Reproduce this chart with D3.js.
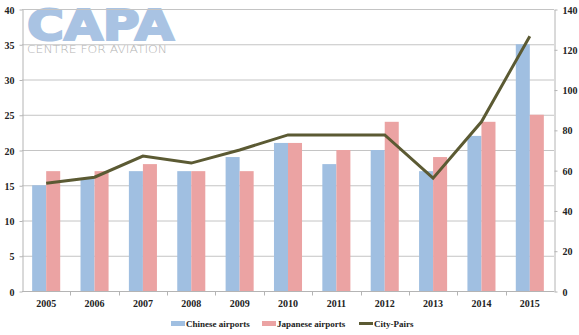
<!DOCTYPE html>
<html>
<head>
<meta charset="utf-8">
<script src="https://cdn.jsdelivr.net/npm/d3@7"></script>
<style>
  body { margin: 0; background: #fff; }
  svg { display: block; }
</style>
</head>
<body>
<svg id="chart"></svg>
<script>
const years = ["2005", "2006", "2007", "2008", "2009", "2010", "2011", "2012", "2013", "2014", "2015"];
const chineseAirports = [15, 16, 17, 17, 19, 21, 18, 20, 17, 22, 35];
const japaneseAirports = [17, 17, 18, 17, 17, 21, 20, 24, 19, 24, 25];
const cityPairs = [53.5, 56.5, 67, 63.5, 70, 77.5, 77.5, 77.5, 56, 84, 126.5];
const leftTicks = [0, 5, 10, 15, 20, 25, 30, 35, 40];
const rightTicks = [0, 20, 40, 60, 80, 100, 120, 140];

function main() {
    const width = 579;
    const height = 335;
    const left = 22, right = 554, top = 9, bottom = 291;

    const svg = d3.select("#chart").attr("width", width).attr("height", height);

    const x = d3.scaleBand().domain(years).range([left, right])
        .paddingInner(0.42).paddingOuter(0.21);
    const yLeft = d3.scaleLinear().domain([0, 40]).range([bottom, top]);
    const yRight = d3.scaleLinear().domain([0, 140]).range([bottom, top]);

    // logo
    const logo = svg.append("g");
    logo.append("text")
        .attr("x", 27).attr("y", 39.5)
        .attr("textLength", 147).attr("lengthAdjust", "spacingAndGlyphs")
        .style("font-family", "DejaVu Sans").style("font-weight", "bold")
        .style("font-size", "43px").style("fill", "#a9c3e3")
        .style("stroke", "#a9c3e3").style("stroke-width", 2.2)
        .text("CAPA");
    logo.append("text")
        .attr("x", 27).attr("y", 52.5)
        .attr("textLength", 140).attr("lengthAdjust", "spacingAndGlyphs")
        .style("font-family", "DejaVu Sans").style("font-weight", "200")
        .style("font-size", "11px").style("fill", "#b4b4b4")
        .text("CENTRE FOR AVIATION");

    // gridlines
    svg.append("g").selectAll("line").data(leftTicks.filter(d => d > 0)).join("line")
        .attr("x1", left).attr("x2", right)
        .attr("y1", d => yLeft(d) + 0.5).attr("y2", d => yLeft(d) + 0.5)
        .attr("stroke", "#c4c4c4").attr("stroke-width", 1);

    // bars
    const sub = d3.scaleBand().domain(["c", "j"]).range([0, x.bandwidth()]);
    const bars = svg.append("g");
    bars.selectAll("rect.c").data(years).join("rect").attr("class", "c")
        .attr("x", d => x(d) + sub("c")).attr("width", sub.bandwidth())
        .attr("y", (d, i) => yLeft(chineseAirports[i]))
        .attr("height", (d, i) => yLeft(0) - yLeft(chineseAirports[i]))
        .attr("fill", "#a0bfe1");
    bars.selectAll("rect.j").data(years).join("rect").attr("class", "j")
        .attr("x", d => x(d) + sub("j")).attr("width", sub.bandwidth())
        .attr("y", (d, i) => yLeft(japaneseAirports[i]))
        .attr("height", (d, i) => yLeft(0) - yLeft(japaneseAirports[i]))
        .attr("fill", "#eba3a3");

    // axes
    const axisLeft = d3.axisLeft(yLeft).tickValues(leftTicks).tickSize(3).tickPadding(5).tickSizeOuter(0);
    const axisRight = d3.axisRight(yRight).tickValues(rightTicks).tickSize(3).tickPadding(5).tickSizeOuter(0);
    const gl = svg.append("g").attr("transform", "translate(" + (left + 0.5) + ",0.5)").call(axisLeft);
    const gr = svg.append("g").attr("transform", "translate(" + (right + 0.5) + ",0.5)").call(axisRight);
    [gl, gr].forEach(g => {
        g.attr("font-family", "Liberation Serif").attr("font-size", 10);
        g.select(".domain").attr("stroke", "#b4b4b4");
        g.selectAll(".tick line").attr("stroke", "#b4b4b4");
        g.selectAll(".tick text").attr("dy", "0.35em")
            .style("font-family", "Liberation Serif").style("font-weight", "bold").style("fill", "#222");
    });

    const gx = svg.append("g").attr("transform", "translate(0," + (bottom + 0.5) + ")");
    gx.append("line").attr("x1", left).attr("x2", right).attr("stroke", "#b4b4b4");
    const step = x.step();
    const bounds = years.slice(1).map(d => x(d) - x.paddingInner() * step / 2);
    gx.selectAll("line.t").data(bounds).join("line").attr("class", "t")
        .attr("x1", d => Math.round(d) + 0.5).attr("x2", d => Math.round(d) + 0.5)
        .attr("y1", 0).attr("y2", 4).attr("stroke", "#b4b4b4");
    gx.selectAll("text").data(years).join("text")
        .attr("x", d => x(d) + x.bandwidth() / 2).attr("y", 15)
        .attr("text-anchor", "middle")
        .style("font-family", "Liberation Serif").style("font-weight", "bold")
        .style("font-size", "10px").style("fill", "#222")
        .text(d => d);

    // line
    const line = d3.line()
        .x((d, i) => x(years[i]) + x.bandwidth() / 2)
        .y(d => yRight(d));
    svg.append("path").datum(cityPairs)
        .attr("d", line).attr("fill", "none")
        .attr("stroke", "#5b5a33").attr("stroke-width", 3)
        .attr("stroke-linejoin", "miter");

    // legend
    const legend = [
        { label: "Chinese airports", type: "rect", color: "#a0bfe1", x: 171 },
        { label: "Japanese airports", type: "rect", color: "#eba3a3", x: 262 },
        { label: "City-Pairs", type: "line", color: "#5b5a33", x: 359 }
    ];
    const lg = svg.append("g");
    legend.forEach(l => {
        if (l.type === "rect") {
            lg.append("rect").attr("x", l.x).attr("y", 321).attr("width", 14).attr("height", 5).attr("fill", l.color);
        } else {
            lg.append("line").attr("x1", l.x).attr("x2", l.x + 14).attr("y1", 323.5).attr("y2", 323.5)
                .attr("stroke", l.color).attr("stroke-width", 3);
        }
        lg.append("text").attr("x", l.x + 15).attr("y", 327)
            .style("font-family", "Liberation Serif").style("font-weight", "bold")
            .style("font-size", "9px").style("fill", "#222")
            .text(l.label);
    });
}

main();
</script>
</body>
</html>
